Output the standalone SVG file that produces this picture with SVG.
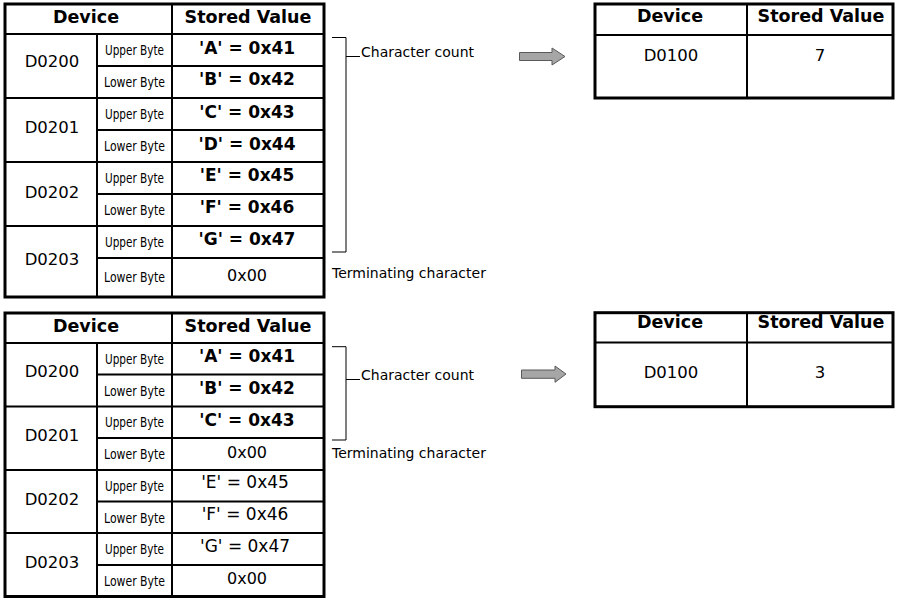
<svg xmlns="http://www.w3.org/2000/svg" width="898" height="598" viewBox="0 0 898 598">
<style>
  text { font-family: "DejaVu Sans", "Liberation Sans", sans-serif; fill: #000; text-anchor: middle; }
  .h { font-size: 17.5px; font-weight: bold; }
  .v { font-size: 17px; font-weight: bold; }
  .vn { font-size: 16px; }
  .ve { font-size: 17px; }
  .d { font-size: 16.5px; }
  .b { font-size: 13.3px; }
  .n { font-size: 14px; text-anchor: start; }
  .frame { fill: #fff; stroke: #000; stroke-width: 3; }
  .grid { stroke: #000; stroke-width: 2; fill: none; }
  .br { stroke: #000; stroke-width: 1; fill: none; }
  .arrow { fill: #a6a6a6; stroke: #595959; stroke-width: 1; }
</style>
<rect width="898" height="598" fill="#fff"/>

<g id="table-top-source">
  <rect class="frame" x="5" y="4" width="319" height="293"/>
  <path class="grid" d="M5 34H324 M97 34V297 M172 4V297 M97 66H324 M97 130H324 M97 194H324 M97 258H324 M5 98H324 M5 162H324 M5 226H324"/>
  <text class="h" x="86" y="23">Device</text>
  <text class="h" x="248" y="23">Stored Value</text>
  <text class="d" x="52" y="67">D0200</text>
  <text class="d" x="52" y="132.5">D0201</text>
  <text class="d" x="52" y="198">D0202</text>
  <text class="d" x="52" y="265">D0203</text>
  <text class="b" x="134.5" y="55" textLength="59" lengthAdjust="spacingAndGlyphs">Upper Byte</text>
  <text class="b" x="134.5" y="87" textLength="61" lengthAdjust="spacingAndGlyphs">Lower Byte</text>
  <text class="b" x="134.5" y="119" textLength="59" lengthAdjust="spacingAndGlyphs">Upper Byte</text>
  <text class="b" x="134.5" y="151" textLength="61" lengthAdjust="spacingAndGlyphs">Lower Byte</text>
  <text class="b" x="134.5" y="183" textLength="59" lengthAdjust="spacingAndGlyphs">Upper Byte</text>
  <text class="b" x="134.5" y="215" textLength="61" lengthAdjust="spacingAndGlyphs">Lower Byte</text>
  <text class="b" x="134.5" y="247" textLength="59" lengthAdjust="spacingAndGlyphs">Upper Byte</text>
  <text class="b" x="134.5" y="281.5" textLength="61" lengthAdjust="spacingAndGlyphs">Lower Byte</text>
  <text class="v" x="247" y="53.5">'A' = 0x41</text>
  <text class="v" x="247" y="85">'B' = 0x42</text>
  <text class="v" x="247" y="118">'C' = 0x43</text>
  <text class="v" x="247" y="150">'D' = 0x44</text>
  <text class="v" x="247" y="181">'E' = 0x45</text>
  <text class="v" x="247" y="213">'F' = 0x46</text>
  <text class="v" x="247" y="244.5">'G' = 0x47</text>
  <text class="vn" x="247" y="281">0x00</text>
</g>

<g id="table-top-result">
  <rect class="frame" x="595" y="4" width="298" height="94"/>
  <path class="grid" d="M595 35H893 M747 4V98"/>
  <text class="h" x="670" y="22">Device</text>
  <text class="h" x="821" y="22">Stored Value</text>
  <text class="d" x="671" y="60.5">D0100</text>
  <text class="d" x="820" y="60.5">7</text>
</g>

<g id="table-bottom-source">
  <rect class="frame" x="5" y="313" width="319" height="283.5"/>
  <path class="grid" d="M5 343H324 M97 343V596.5 M172 313V596.5 M97 374.5H324 M97 438H324 M97 501.5H324 M97 565H324 M5 406.5H324 M5 470H324 M5 533H324"/>
  <text class="h" x="86" y="331.5">Device</text>
  <text class="h" x="248" y="331.5">Stored Value</text>
  <text class="d" x="52" y="377">D0200</text>
  <text class="d" x="52" y="441">D0201</text>
  <text class="d" x="52" y="505">D0202</text>
  <text class="d" x="52" y="568">D0203</text>
  <text class="b" x="134.5" y="363.5" textLength="59" lengthAdjust="spacingAndGlyphs">Upper Byte</text>
  <text class="b" x="134.5" y="395.5" textLength="61" lengthAdjust="spacingAndGlyphs">Lower Byte</text>
  <text class="b" x="134.5" y="427" textLength="59" lengthAdjust="spacingAndGlyphs">Upper Byte</text>
  <text class="b" x="134.5" y="459" textLength="61" lengthAdjust="spacingAndGlyphs">Lower Byte</text>
  <text class="b" x="134.5" y="490.5" textLength="59" lengthAdjust="spacingAndGlyphs">Upper Byte</text>
  <text class="b" x="134.5" y="522.5" textLength="61" lengthAdjust="spacingAndGlyphs">Lower Byte</text>
  <text class="b" x="134.5" y="554" textLength="59" lengthAdjust="spacingAndGlyphs">Upper Byte</text>
  <text class="b" x="134.5" y="585.5" textLength="61" lengthAdjust="spacingAndGlyphs">Lower Byte</text>
  <text class="v" x="247" y="361.7">'A' = 0x41</text>
  <text class="v" x="247" y="393.5">'B' = 0x42</text>
  <text class="v" x="247" y="425.5">'C' = 0x43</text>
  <text class="vn" x="247" y="458.3">0x00</text>
  <text class="ve" x="245" y="488.3">'E' = 0x45</text>
  <text class="ve" x="245" y="520">'F' = 0x46</text>
  <text class="ve" x="245" y="551.7">'G' = 0x47</text>
  <text class="vn" x="247" y="584">0x00</text>
</g>

<g id="table-bottom-result">
  <rect class="frame" x="595" y="312.7" width="298" height="94"/>
  <path class="grid" d="M595 342.5H893 M747 312.7V406.7"/>
  <text class="h" x="670" y="328">Device</text>
  <text class="h" x="821" y="328">Stored Value</text>
  <text class="d" x="671" y="378.3">D0100</text>
  <text class="d" x="820" y="378.3">3</text>
</g>

<g id="annotations">
  <text class="n" x="361" y="57">Character count</text>
  <text class="n" x="332" y="278">Terminating character</text>
  <text class="n" x="361" y="380">Character count</text>
  <text class="n" x="332" y="458">Terminating character</text>
</g>

<g id="connectors">
  <polyline class="br" points="332,37.5 346,37.5 346,252 332,252"/>
  <line class="br" x1="346" y1="56.5" x2="360" y2="56.5"/>
  <polyline class="br" points="332,346.7 346,346.7 346,440 332,440"/>
  <line class="br" x1="346" y1="379.5" x2="360" y2="379.5"/>
  <polygon class="arrow" points="519.5,52.5 552,52.5 552,48 565,56.5 552,65 552,60.5 519.5,60.5"/>
  <polygon class="arrow" points="521.5,370 555,370 555,366 566,374 555,382.3 555,378.3 521.5,378.3"/>
</g>
</svg>
